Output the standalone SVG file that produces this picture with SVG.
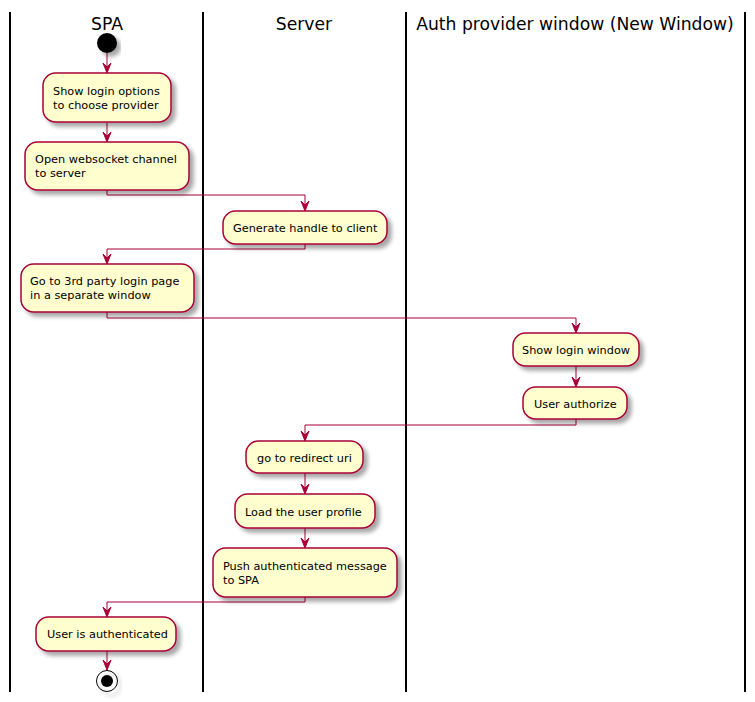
<svg xmlns="http://www.w3.org/2000/svg" width="755" height="702" viewBox="0 0 755 702">
<defs>
<filter id="sh" x="-10%" y="-10%" width="130%" height="150%">
<feGaussianBlur in="SourceAlpha" stdDeviation="2"/>
<feOffset dx="4" dy="4" result="b"/>
<feComponentTransfer><feFuncA type="linear" slope="0.35"/></feComponentTransfer>
<feMerge><feMergeNode/><feMergeNode in="SourceGraphic"/></feMerge>
</filter>
<marker id="ah" viewBox="0 0 10 10" markerWidth="10" markerHeight="10" refX="5" refY="10" orient="0" markerUnits="userSpaceOnUse">
<polygon points="1,0 5,10 9,0 5,4" fill="#A80036" stroke="#A80036" stroke-width="1"/>
</marker>
</defs>
<style>
.lane{stroke:#000;stroke-width:2;}
.title{font-family:"DejaVu Sans",sans-serif;font-size:17.2px;fill:#000;text-anchor:middle;}
.box{fill:#FEFECE;stroke:#A80036;stroke-width:1.5;filter:url(#sh);}
.t{font-family:"DejaVu Sans",sans-serif;font-size:11.3px;fill:#000;}
.c{fill:none;stroke:#A80036;stroke-width:1;marker-end:url(#ah);}
</style>
<rect width="755" height="702" fill="#fff"/>
<g id="lanes">
<line class="lane" x1="10" y1="12" x2="10" y2="692"/>
<line class="lane" x1="203" y1="12" x2="203" y2="692"/>
<line class="lane" x1="406" y1="12" x2="406" y2="692"/>
<line class="lane" x1="745" y1="12" x2="745" y2="692"/>
<text class="title" x="107" y="30">SPA</text>
<text class="title" x="304" y="30">Server</text>
<text class="title" x="575" y="30">Auth provider window (New Window)</text>
</g>
<g id="connectors">
<path class="c" d="M107,53 V73"/>
<path class="c" d="M107,123 V142"/>
<path class="c" d="M107,190 V195 H305 V211"/>
<path class="c" d="M305,244 V249 H107 V264"/>
<path class="c" d="M107,312 V318 H576 V333"/>
<path class="c" d="M576,366 V387"/>
<path class="c" d="M576,419 V425 H305 V441"/>
<path class="c" d="M305,473 V494"/>
<path class="c" d="M305,528 V548"/>
<path class="c" d="M305,597 V602 H107 V617"/>
<path class="c" d="M107,651 V670"/>
</g>
<g id="start"><circle cx="107" cy="43" r="10" fill="#000" filter="url(#sh)"/></g>
<g id="n1"><rect class="box" x="43" y="73" width="128" height="49" rx="12.5"/><text class="t" x="53" y="95">Show login options</text><text class="t" x="53" y="109">to choose provider</text></g>
<g id="n2"><rect class="box" x="25" y="142" width="164" height="48" rx="12.5"/><text class="t" x="35" y="163">Open websocket channel</text><text class="t" x="35" y="177">to server</text></g>
<g id="n3"><rect class="box" x="223" y="211" width="164" height="33" rx="12.5"/><text class="t" x="233" y="232">Generate handle to client</text></g>
<g id="n4"><rect class="box" x="21" y="264" width="173" height="48" rx="12.5"/><text class="t" x="30" y="285">Go to 3rd party login page</text><text class="t" x="30" y="299">in a separate window</text></g>
<g id="n5"><rect class="box" x="513" y="333" width="126" height="33" rx="12.5"/><text class="t" x="522" y="354">Show login window</text></g>
<g id="n6"><rect class="box" x="523" y="387" width="104" height="32" rx="12.5"/><text class="t" x="534" y="408">User authorize</text></g>
<g id="n7"><rect class="box" x="246" y="441" width="117" height="32" rx="12.5"/><text class="t" x="257" y="462">go to redirect uri</text></g>
<g id="n8"><rect class="box" x="235" y="494" width="140" height="34" rx="12.5"/><text class="t" x="245" y="516">Load the user profile</text></g>
<g id="n9"><rect class="box" x="213" y="548" width="184" height="49" rx="12.5"/><text class="t" x="223" y="570">Push authenticated message</text><text class="t" x="223" y="584">to SPA</text></g>
<g id="n10"><rect class="box" x="36" y="617" width="140" height="34" rx="12.5"/><text class="t" x="47" y="638">User is authenticated</text></g>
<g id="end"><circle cx="107" cy="681" r="10.5" fill="none" stroke="#000" stroke-width="1" filter="url(#sh)"/><circle cx="107" cy="681" r="6" fill="#000"/></g>
</svg>
